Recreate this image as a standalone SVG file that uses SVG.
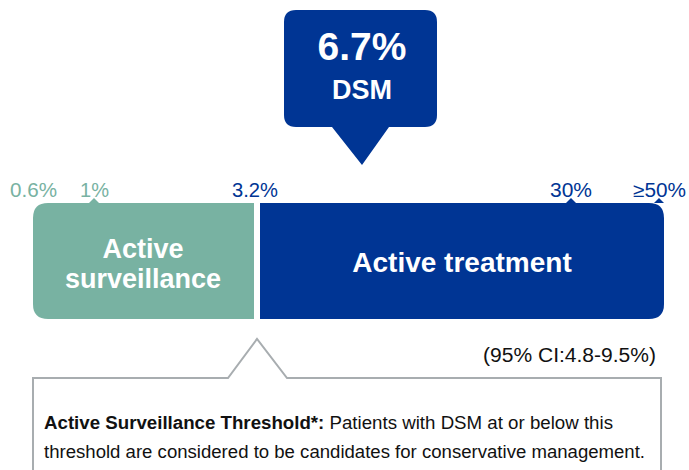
<svg xmlns="http://www.w3.org/2000/svg" width="689" height="470" viewBox="0 0 689 470">
<style>
.lbl{font-family:"Liberation Sans",Arial,sans-serif;font-size:19.5px}
.g{fill:#78B2A2}
.b{fill:#003594}
.big{font-family:"Liberation Sans",Arial,sans-serif;font-weight:bold;fill:#fff;text-anchor:middle}
.note{font-family:"Liberation Sans",Arial,sans-serif;font-size:17.5px;fill:#111}
</style>
<rect width="689" height="470" fill="#fff"/>
<g id="callout">
<path class="b" d="M296,10 H425 Q437,10 437,22 V115 Q437,127 425,127 H389 L362,165 L332,127 H296 Q284,127 284,115 V22 Q284,10 296,10 Z"/>
<text class="big" x="362" y="60" font-size="39">6.7%</text>
<text class="big" x="362" y="99" font-size="27">DSM</text>
</g>
<g id="active-surveillance">
<path class="g" d="M48,203 H254 V319 H48 Q33,319 33,304 V218 Q33,203 48,203 Z"/>
<path class="g" d="M89,203 L94,198 L99,203 Z"/>
<text class="big" x="143" y="258" font-size="27">Active</text>
<text class="big" x="143" y="288" font-size="27">surveillance</text>
</g>
<g id="active-treatment">
<path class="b" d="M260,203 H649 Q664,203 664,218 V304 Q664,319 649,319 H260 Z"/>
<path class="b" d="M566,203 L571,198 L576,203 Z"/>
<path class="b" d="M654,203 L659,198 L664,203 Z"/>
<text class="big" x="462" y="272" font-size="28">Active treatment</text>
</g>
<g id="scale-labels">
<text class="lbl g" x="10" y="197" textLength="47" lengthAdjust="spacingAndGlyphs">0.6%</text>
<text class="lbl g" x="80" y="197" textLength="29" lengthAdjust="spacingAndGlyphs">1%</text>
<text class="lbl b" x="232" y="197" textLength="46" lengthAdjust="spacingAndGlyphs">3.2%</text>
<text class="lbl b" x="550" y="197" textLength="42" lengthAdjust="spacingAndGlyphs">30%</text>
<text class="lbl b" x="633" y="197" textLength="53" lengthAdjust="spacingAndGlyphs">≥50%</text>
</g>
<g id="ci">
<text class="lbl" x="483" y="362" fill="#111" textLength="173" lengthAdjust="spacingAndGlyphs">(95% CI:4.8-9.5%)</text>
</g>
<g id="threshold-note">
<path d="M33,472 V378 H228 L257,339 L287,378 H661 V472" fill="#fff" stroke="#A8ADB0" stroke-width="2"/>
<text class="note" x="44" y="429" textLength="569" lengthAdjust="spacingAndGlyphs"><tspan font-weight="bold">Active Surveillance Threshold*:</tspan> Patients with DSM at or below this</text>
<text class="note" x="44" y="458" textLength="601" lengthAdjust="spacingAndGlyphs">threshold are considered to be candidates for conservative management.</text>
</g>
<g id="connectors"></g>
</svg>
